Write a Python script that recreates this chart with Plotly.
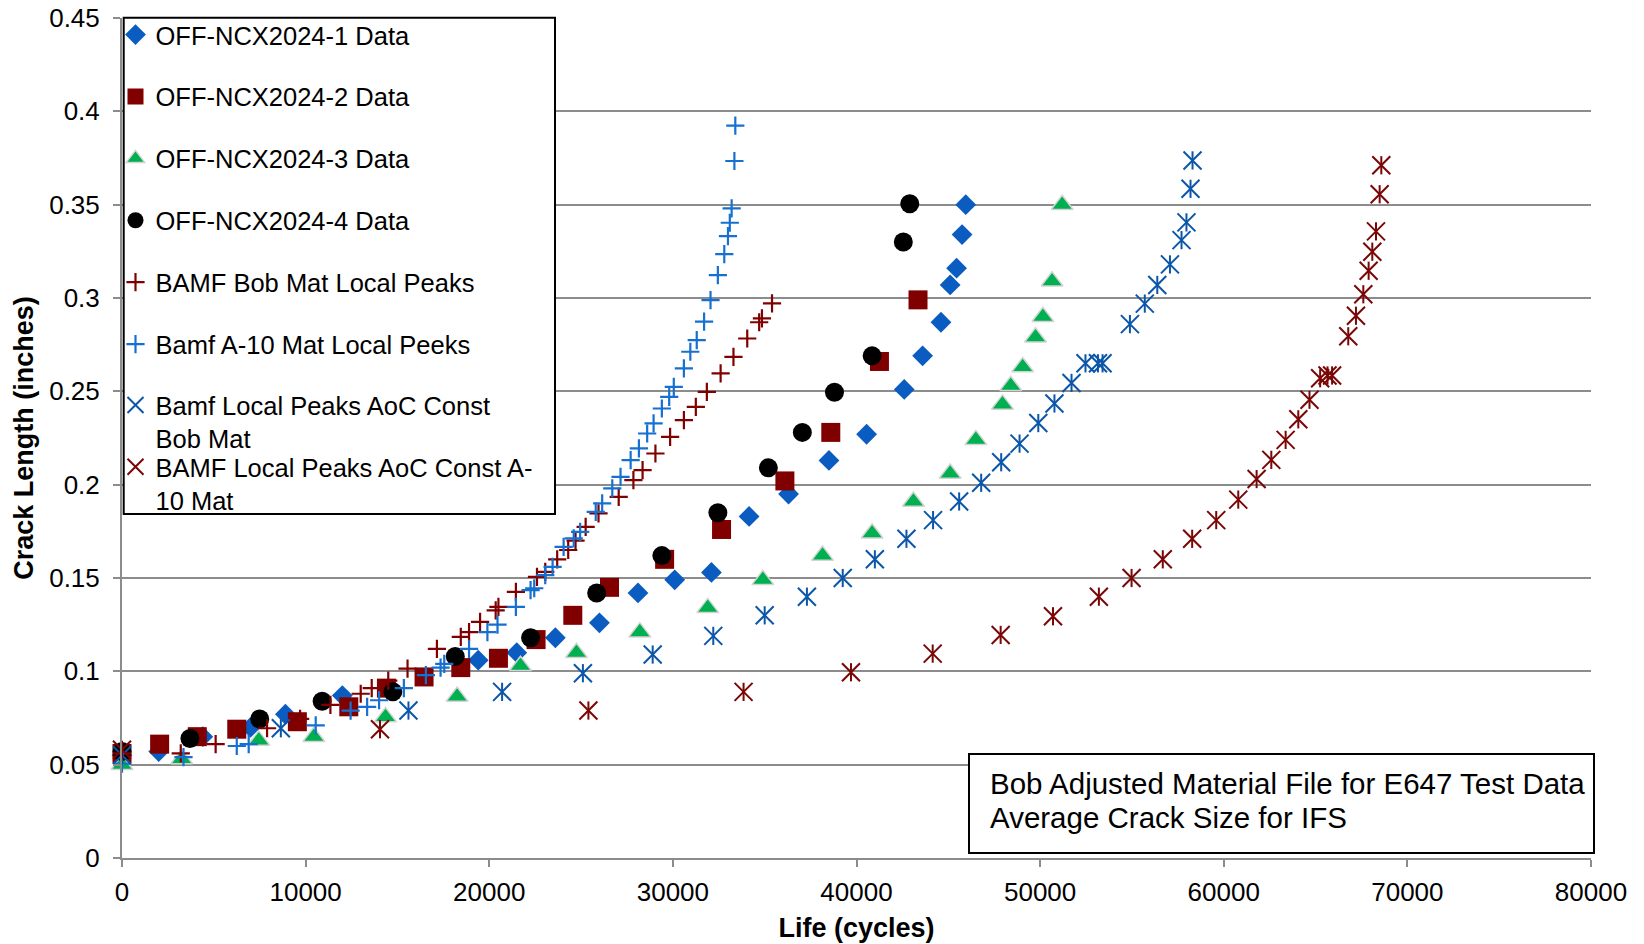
import plotly.graph_objects as go

# ---------------- data ----------------
x_ncx1 = [0, 2000, 4400, 7000, 8900, 12000, 19400, 21500, 23600, 26000, 28100, 30100, 32100,
          34150, 36300, 38500, 40550, 42600, 43600, 44600, 45100, 45450, 45750, 45950]
y_ncx1 = [0.055, 0.057, 0.065, 0.070, 0.077, 0.087, 0.106, 0.110, 0.118, 0.126, 0.142, 0.149, 0.153,
          0.183, 0.195, 0.213, 0.227, 0.251, 0.269, 0.287, 0.307, 0.316, 0.334, 0.350]

x_ncx2 = [0, 2050, 4100, 6250, 9550, 12350, 14400, 16450, 18450, 20500, 22550, 24550, 26550,
          29550, 32650, 36100, 38600, 41250, 43350]
y_ncx2 = [0.056, 0.061, 0.065, 0.069, 0.073, 0.081, 0.091, 0.097, 0.102, 0.107, 0.117, 0.130, 0.145,
          0.160, 0.176, 0.202, 0.228, 0.266, 0.299]

x_ncx3 = [0, 3250, 7450, 10450, 14350, 18250, 21700, 24750, 28200, 31900, 34900, 38150, 40850,
          43100, 45100, 46500, 47950, 48400, 49050, 49750, 50150, 50650, 51200]
y_ncx3 = [0.050, 0.053, 0.063, 0.065, 0.0755, 0.0865, 0.103, 0.110, 0.121, 0.134, 0.149, 0.162, 0.174,
          0.191, 0.206, 0.224, 0.243, 0.253, 0.263, 0.279, 0.290, 0.309, 0.350]

x_ncx4 = [0, 3700, 7500, 10900, 14750, 18150, 22250, 25850, 29400, 32450, 35200, 37050, 38800,
          40850, 42550, 42900]
y_ncx4 = [0.057, 0.064, 0.0745, 0.084, 0.089, 0.108, 0.118, 0.142, 0.162, 0.185, 0.209, 0.228, 0.2495,
          0.269, 0.330, 0.3505]

x_bob = [0, 3200, 5100, 7900, 9700, 11350, 13000, 13600, 14500, 15550, 17150, 18450, 18900, 19500,
         20350, 20500, 21450, 22600, 23050, 23700, 24300, 24700, 25250, 25950, 27050, 27850, 28350,
         29050, 29850, 30600, 31250, 31850, 32600, 33300, 34050, 34700, 34850, 35400]
y_bob = [0.056, 0.056, 0.061, 0.0695, 0.0745, 0.082, 0.088, 0.091, 0.095, 0.1015, 0.112, 0.1185, 0.121,
         0.1265, 0.1327, 0.1345, 0.1426, 0.1506, 0.1533, 0.160, 0.165, 0.170, 0.1774, 0.1846, 0.1935,
         0.2024, 0.2078, 0.2167, 0.2256, 0.2346, 0.2417, 0.2497, 0.2596, 0.2685, 0.2783, 0.2870,
         0.2891, 0.2971]

x_a10 = [0, 3350, 6250, 6900, 10550, 12450, 13350, 14000, 15350, 16550, 17350, 17550, 18900, 19900,
         20450, 21450, 22250, 22450, 23050, 23450, 24050, 24600, 24950, 25800, 26150, 26700, 27150,
         27700, 28150, 28600, 28950, 29400, 29800, 30050, 30600, 30950, 31300, 31700, 32050, 32450,
         32800, 33000, 33100, 33200, 33350, 33400]
y_a10 = [0.0505, 0.054, 0.060, 0.061, 0.071, 0.079, 0.081, 0.0845, 0.091, 0.098, 0.102, 0.104, 0.112,
         0.121, 0.125, 0.1345, 0.1435, 0.1445, 0.1515, 0.156, 0.1667, 0.1712, 0.1747, 0.1854, 0.190,
         0.198, 0.2042, 0.2131, 0.2194, 0.2274, 0.2328, 0.2408, 0.247, 0.2524, 0.2623, 0.2712, 0.2774,
         0.2873, 0.2989, 0.3123, 0.3235, 0.3332, 0.3403, 0.348, 0.3734, 0.3923]

x_aoc_bob = [0, 8650, 15600, 20700, 25100, 28900, 32200, 35000, 37300, 39250, 41000, 42720, 44170,
             45590, 46790, 47880, 48880, 49900, 50780, 51710, 52470, 53150, 53400, 54890, 55700,
             56380, 57070, 57700, 57970, 58190, 58300]
y_aoc_bob = [0.055, 0.0695, 0.079, 0.089, 0.099, 0.109, 0.119, 0.130, 0.140, 0.150, 0.160, 0.171, 0.181,
             0.191, 0.201, 0.212, 0.222, 0.233, 0.2435, 0.2545, 0.265, 0.265, 0.265, 0.286, 0.297,
             0.307, 0.318, 0.331, 0.3405, 0.3585, 0.3737]

x_aoc_a10 = [0, 14050, 25400, 33850, 39700, 44150, 47850, 50700, 53200, 54980, 56680, 58280, 59590,
             60790, 61790, 62590, 63370, 64060, 64670, 65250, 65650, 65900, 66780, 67200, 67600,
             67890, 68090, 68290, 68490, 68580]
y_aoc_a10 = [0.058, 0.069, 0.079, 0.089, 0.0995, 0.1095, 0.1195, 0.1295, 0.140, 0.150, 0.160, 0.171,
             0.181, 0.192, 0.203, 0.2133, 0.224, 0.235, 0.2455, 0.257, 0.2585, 0.2585, 0.2795, 0.2905,
             0.302, 0.3146, 0.3248, 0.3357, 0.3556, 0.3711]

series_names = [
    "OFF-NCX2024-1 Data",
    "OFF-NCX2024-2 Data",
    "OFF-NCX2024-3 Data",
    "OFF-NCX2024-4 Data",
    "BAMF Bob Mat Local Peaks",
    "Bamf A-10 Mat Local Peeks",
    "Bamf Local Peaks AoC Const<br>Bob Mat",
    "BAMF Local Peaks AoC Const A-<br>10 Mat",
]

x_title = "Life (cycles)"
y_title = "Crack Length (inches)"
note_lines = ["Bob Adjusted Material File for E647 Test Data", "Average Crack Size for IFS"]

FONT = "Liberation Sans, Arial, sans-serif"
GRID = "#8C8C8C"

# pixel geometry of the plot area (for placing boxes in paper coordinates)
W, H = 1644, 944
ML, MR, MT, MB = 122, 53, 18, 86
PW, PH = W - ML - MR, H - MT - MB


def px(x):
    return (x - ML) / PW


def py(y):
    return (H - MB - y) / PH


fig = go.Figure()


def add(x, y, name, symbol, size, color, line_color=None, line_width=0, group=None,
        show=True, legend="legend"):
    fig.add_trace(go.Scatter(
        x=x, y=y, mode="markers", name=name, legend=legend,
        legendgroup=group or name, showlegend=show, cliponaxis=False,
        marker=dict(symbol=symbol, size=size, color=color,
                    line=dict(color=line_color if line_color else color, width=line_width)),
    ))


add(x_ncx1, y_ncx1, series_names[0], "diamond", 16, "#0A5CC0", group="g1")
add(x_ncx2, y_ncx2, series_names[1], "square", 19, "#800000", group="g2")
add(x_ncx3, y_ncx3, series_names[2], "triangle-up", 19, "#00B050", "#D4D4D4", 1.5, group="g3")
add(x_ncx4, y_ncx4, series_names[3], "circle", 19, "#000000", group="g4")
add(x_bob, y_bob, series_names[4], "cross-thin-open", 13, "#800000", "#800000", 2.2, group="g5")
add(x_a10, y_a10, series_names[5], "cross-thin-open", 13, "#1670D2", "#1670D2", 2.2, group="g6")
add(x_aoc_bob, y_aoc_bob, series_names[6], "x-thin-open", 18, "#0B56A8", "#0B56A8", 2,
    group="g7", legend="legend2")
add(x_aoc_bob, y_aoc_bob, "Bamf Local Peaks AoC Const Bob Mat (stem)", "line-ns-open", 13,
    "#0B56A8", "#0B56A8", 2, group="g7", show=False, legend="legend2")
add(x_aoc_a10, y_aoc_a10, series_names[7], "x-thin-open", 18, "#7A0606", "#7A0606", 2,
    group="g8", legend="legend3")
add(x_aoc_a10, y_aoc_a10, "BAMF Local Peaks AoC Const A-10 Mat (stem)", "line-ns-open", 13,
    "#7A0606", "#7A0606", 2, group="g8", show=False, legend="legend3")

LEG_FONT = dict(family=FONT, size=25.5, color="black")
leg_common = dict(x=px(115.5), xanchor="left", yanchor="top", bgcolor="rgba(0,0,0,0)",
                  borderwidth=0, font=LEG_FONT, itemclick=False, itemdoubleclick=False)

fig.update_layout(
    width=W, height=H,
    margin=dict(l=ML, r=MR, t=MT, b=MB, autoexpand=False),
    paper_bgcolor="white", plot_bgcolor="white",
    font=dict(family=FONT, size=26, color="black"),
    showlegend=True,
    legend=dict(y=py(11.5), traceorder="grouped", tracegroupgap=25.75, valign="middle", **leg_common),
    legend2=dict(y=py(382), traceorder="grouped", valign="top", **leg_common),
    legend3=dict(y=py(443.7), traceorder="grouped", valign="top", **leg_common),
    xaxis=dict(
        range=[0, 80000], dtick=10000, tick0=0, tickformat="d",
        showgrid=False, zeroline=False,
        showline=True, linecolor=GRID, linewidth=2,
        ticks="outside", ticklen=7, tickwidth=2, tickcolor=GRID,
        tickfont=dict(family=FONT, size=26, color="black"),
        ticklabelstandoff=3,
        title=dict(text="<b>" + x_title + "</b>", font=dict(family=FONT, size=27, color="black"),
                   standoff=12),
    ),
    yaxis=dict(
        range=[0, 0.45], dtick=0.05, tick0=0,
        showgrid=True, gridcolor=GRID, gridwidth=2, zeroline=False,
        showline=True, linecolor=GRID, linewidth=2,
        ticks="outside", ticklen=7, tickwidth=2, tickcolor=GRID,
        tickfont=dict(family=FONT, size=26, color="black"),
        ticklabelstandoff=8,
        title=dict(text="<b>" + y_title + "</b>", font=dict(family=FONT, size=27, color="black"),
                   standoff=8),
    ),
    shapes=[
        # legend frame
        dict(type="rect", xref="paper", yref="paper", layer="above",
             x0=px(123.7), x1=px(555), y0=py(514), y1=py(17.8),
             line=dict(color="black", width=2), fillcolor="white"),
        # note frame
        dict(type="rect", xref="paper", yref="paper", layer="above",
             x0=px(969), x1=px(1594), y0=py(853), y1=py(754),
             line=dict(color="black", width=2), fillcolor="white"),
    ],
    annotations=[
        dict(text=note_lines[0], xref="paper", yref="paper", x=px(988), y=py(783.5),
             xanchor="left", yanchor="middle", align="left", showarrow=False,
             font=dict(family=FONT, size=29.5, color="black")),
        dict(text=note_lines[1], xref="paper", yref="paper", x=px(988), y=py(817),
             xanchor="left", yanchor="middle", align="left", showarrow=False,
             font=dict(family=FONT, size=29.5, color="black")),
    ],
)

fig.write_html("out.html")
